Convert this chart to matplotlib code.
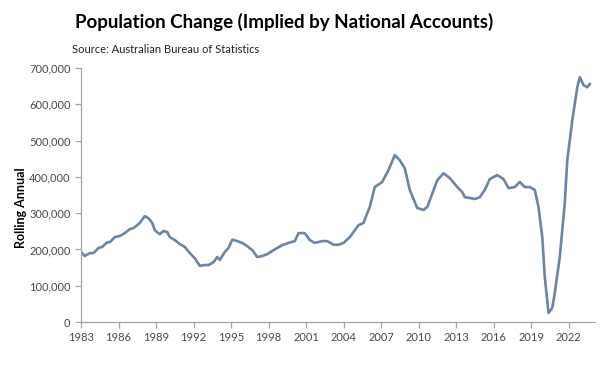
import matplotlib
matplotlib.use("Agg")
import matplotlib.pyplot as plt
from matplotlib.ticker import FuncFormatter

years = [1983.0, 1983.3, 1983.7, 1984.0, 1984.4, 1984.7, 1985.1, 1985.3, 1985.7, 1986.1,
         1986.5, 1986.9, 1987.2, 1987.5, 1987.7, 1988.1, 1988.4, 1988.7, 1988.9, 1989.3,
         1989.6, 1989.9, 1990.1, 1990.5, 1990.9, 1991.3, 1991.7, 1992.1, 1992.5, 1992.9,
         1993.2, 1993.6, 1993.9, 1994.1, 1994.5, 1994.8, 1995.1, 1995.5, 1995.9, 1996.3,
         1996.7, 1997.1, 1997.5, 1997.9, 1998.3, 1998.7, 1999.1, 1999.6, 2000.1, 2000.4,
         2000.9, 2001.3, 2001.7, 2002.3, 2002.7, 2003.2, 2003.6, 2004.0, 2004.5, 2005.2,
         2005.6, 2005.9, 2006.1, 2006.5, 2007.1, 2007.6, 2008.1, 2008.5, 2008.9, 2009.3,
         2009.9, 2010.4, 2010.7, 2011.5, 2012.0, 2012.5, 2013.1, 2013.5, 2013.7, 2014.1,
         2014.5, 2014.9, 2015.3, 2015.7, 2016.3, 2016.8, 2017.2, 2017.7, 2018.1, 2018.5,
         2018.9, 2019.3, 2019.6, 2019.9, 2020.1, 2020.4, 2020.7, 2020.9, 2021.3, 2021.7,
         2021.9, 2022.3, 2022.7, 2022.9, 2023.2, 2023.5, 2023.7]
values = [193, 182, 190, 190, 204, 207, 220, 220, 234, 237,
          245, 256, 259, 267, 273, 292, 286, 273, 253, 242,
          251, 248, 234, 226, 215, 207, 190, 176, 155, 157,
          157, 165, 179, 171, 193, 204, 227, 223, 218, 209,
          198, 179, 182, 187, 196, 204, 212, 218, 223, 245,
          245, 226, 218, 223, 223, 213, 213, 218, 234, 267,
          273, 300, 317, 372, 386, 419, 460, 446, 424, 364,
          314, 309, 317, 391, 410, 397, 372, 358, 344, 342,
          339, 344, 364, 394, 405, 394, 369, 372, 386, 372,
          372, 364, 317, 234, 124, 25, 39, 80, 179, 328,
          446, 556, 647, 675, 653, 647, 656]
values = [v * 1000 for v in values]

tick_years = [1983, 1986, 1989, 1992, 1995, 1998, 2001, 2004, 2007, 2010, 2013, 2016, 2019, 2022]
y_ticks = [0, 100000, 200000, 300000, 400000, 500000, 600000, 700000]

plt.rcParams['font.family'] = ['Lato', 'DejaVu Sans']

fig = plt.figure(figsize=(6.02, 3.72), dpi=100)
ax = fig.add_axes([0.1346, 0.1344, 0.8534, 0.6826])

ax.plot(years, values, color='#6E84A3', lw=1.9, solid_joinstyle='round')

ax.set_xlim(1983, 2024.1)
ax.set_ylim(0, 700000)
ax.set_xticks(tick_years)
ax.set_xticklabels([str(y) for y in tick_years])
ax.set_yticks(y_ticks)
ax.yaxis.set_major_formatter(FuncFormatter(lambda v, p: f"{int(v):,}"))

for s in ['top', 'right']:
    ax.spines[s].set_visible(False)
ax.spines['left'].set_color('#A6A6A6')
ax.spines['bottom'].set_color('#A6A6A6')
ax.spines['left'].set_linewidth(0.9)
ax.spines['bottom'].set_linewidth(0.9)
ax.tick_params(axis='both', colors='#A6A6A6', labelcolor='#4A4A4A', labelsize=8, length=4, width=0.9)
ax.tick_params(axis='x', pad=3)

ax.set_ylabel('Rolling Annual', fontsize=9, fontweight='bold', color='black', labelpad=2)
ax.yaxis.set_label_coords(-0.105, 0.45)

fig.text(0.125, 0.94, 'Population Change (Implied by National Accounts)', fontsize=13.5,
         fontweight='bold', color='black', ha='left', va='center')
fig.text(0.12, 0.868, 'Source: Australian Bureau of Statistics', fontsize=8, color='#222222',
         ha='left', va='center')

fig.savefig('out.png', dpi=100, facecolor='white')
